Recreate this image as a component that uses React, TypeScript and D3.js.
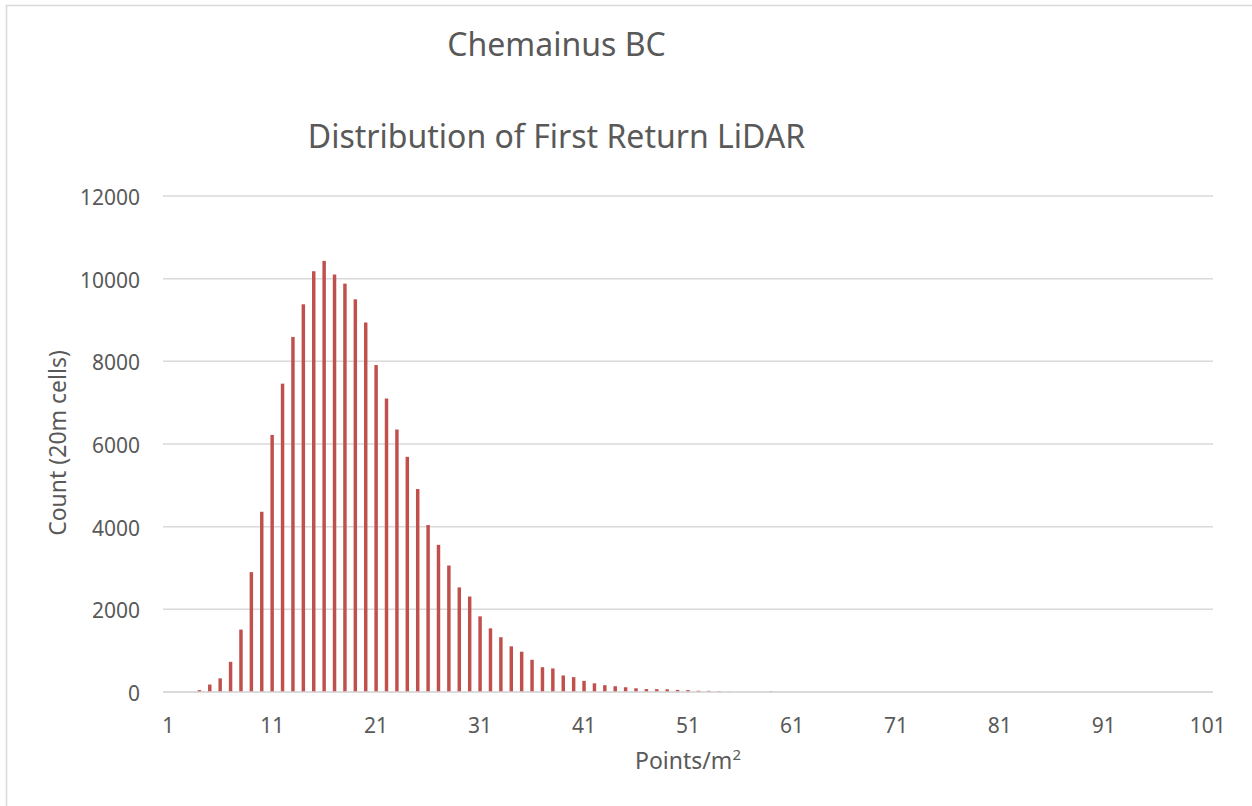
import { useEffect, useRef } from 'react';
import * as d3 from 'd3';

// counts per points/m² bin, bins 1..101
const counts = [
  0, 0, 0, 45, 180, 330, 730, 1510, 2900, 4360,
  6220, 7460, 8590, 9380, 10180, 10430, 10100, 9880, 9500, 8940,
  7910, 7100, 6350, 5690, 4910, 4040, 3560, 3060, 2530, 2310,
  1830, 1540, 1325, 1105, 975, 780, 600, 570, 400, 360,
  270, 210, 165, 140, 115, 90, 70, 68, 65, 50,
  45, 30, 28, 22, 6, 4, 3, 3, 18, 0,
  0, 0, 0, 0, 0, 0, 0, 0, 0, 0,
  0, 0, 0, 0, 0, 0, 0, 0, 0, 0,
  0, 0, 0, 0, 0, 0, 0, 0, 0, 0,
  0, 0, 0, 0, 0, 0, 0, 0, 0, 0,
  0,
];
const categories = counts.map((_, i) => String(i + 1));
const xTickLabels = ['1', '11', '21', '31', '41', '51', '61', '71', '81', '91', '101'];
const yTicks = [0, 2000, 4000, 6000, 8000, 10000, 12000];

const W = 1252;
const H = 806;
const FONT = '"Noto Sans", "Open Sans", sans-serif';
const TEXT = '#595959';
const GRID = '#d9d9d9';

export default function App() {
  const svgRef = useRef<SVGSVGElement | null>(null);

  useEffect(() => {
    const svg = d3.select(svgRef.current);
    svg.selectAll('*').remove();

    const left = 163, right = 1213, top = 196, bottom = 692;

    const x = d3.scaleBand<string>()
      .domain(categories)
      .range([left, right])
      .paddingInner(2 / 3)
      .paddingOuter(1 / 3);

    const y = d3.scaleLinear().domain([0, 12000]).range([bottom, top]);

    svg.append('rect')
      .attr('width', W).attr('height', H).attr('fill', '#fff');

    // chart-area border (only top and left are inside the frame)
    svg.append('rect')
      .attr('x', 6.5).attr('y', 5.5)
      .attr('width', W + 50).attr('height', H + 50)
      .attr('fill', 'none')
      .attr('stroke', GRID)
      .attr('stroke-width', 1.5);

    svg.append('text')
      .attr('x', 556.5).attr('y', 56)
      .attr('text-anchor', 'middle')
      .attr('fill', TEXT)
      .style('font-family', FONT)
      .style('font-size', '32px')
      .text('Chemainus BC');

    svg.append('text')
      .attr('x', 556.5).attr('y', 148)
      .attr('text-anchor', 'middle')
      .attr('fill', TEXT)
      .style('font-family', FONT)
      .style('font-size', '32px')
      .text('Distribution of First Return LiDAR');

    // gridlines
    svg.append('g')
      .selectAll('line')
      .data(yTicks)
      .join('line')
      .attr('x1', left).attr('x2', right)
      .attr('y1', d => y(d)).attr('y2', d => y(d))
      .attr('stroke', GRID)
      .attr('stroke-width', 1.5);

    svg.append('g')
      .selectAll('text')
      .data(yTicks)
      .join('text')
      .attr('x', 140)
      .attr('y', d => y(d) + 1)
      .attr('text-anchor', 'end')
      .attr('dominant-baseline', 'central')
      .attr('fill', TEXT)
      .style('font-family', FONT)
      .style('font-size', '21px')
      .text(d => String(d));

    // bars
    svg.append('g')
      .selectAll('rect')
      .data(counts.map((c, i) => ({ cat: categories[i], c })))
      .join('rect')
      .attr('x', d => x(d.cat)!)
      .attr('width', x.bandwidth())
      .attr('y', d => y(d.c))
      .attr('height', d => bottom - y(d.c))
      .attr('fill', '#C0504D');

    // axis line
    svg.append('line')
      .attr('x1', left).attr('x2', right)
      .attr('y1', bottom).attr('y2', bottom)
      .attr('stroke', GRID)
      .attr('stroke-width', 1.5);

    svg.append('g')
      .selectAll('text')
      .data(xTickLabels)
      .join('text')
      .attr('x', d => x(d)! + x.bandwidth() / 2)
      .attr('y', 733)
      .attr('text-anchor', 'middle')
      .attr('fill', TEXT)
      .style('font-family', FONT)
      .style('font-size', '21px')
      .text(d => d);

    const xt = svg.append('text')
      .attr('x', 688).attr('y', 769)
      .attr('text-anchor', 'middle')
      .attr('fill', TEXT)
      .style('font-family', FONT)
      .style('font-size', '23px');
    xt.append('tspan').text('Points/m');
    xt.append('tspan')
      .attr('dy', -9)
      .style('font-size', '15px')
      .text('2');

    svg.append('text')
      .attr('transform', 'translate(57,443) rotate(-90)')
      .attr('text-anchor', 'middle')
      .attr('dominant-baseline', 'central')
      .attr('fill', TEXT)
      .style('font-family', FONT)
      .style('font-size', '23px')
      .text('Count (20m cells)');
  }, []);

  return (
    <div style={{ position: 'absolute', left: 0, top: 0 }}>
      <svg ref={svgRef} width={W} height={H} style={{ display: 'block' }}></svg>
    </div>
  );
}
